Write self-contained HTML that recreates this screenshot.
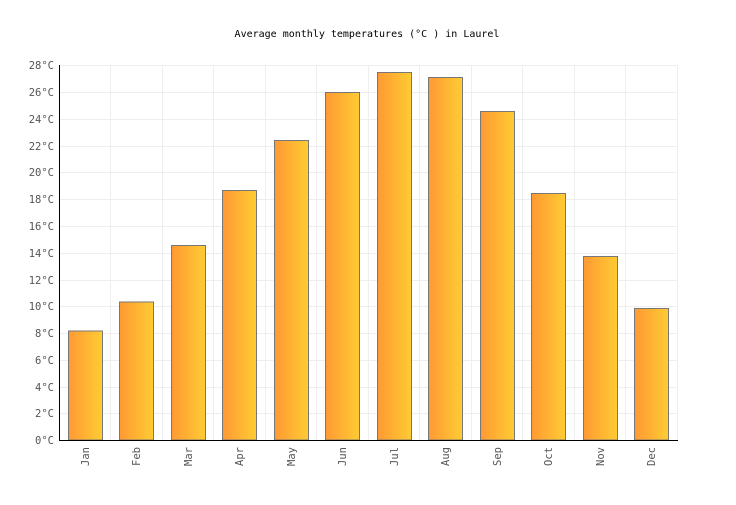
<!DOCTYPE html>
<html><head><meta charset="utf-8"><style>body{margin:0;background:#fff}</style></head>
<body>
<svg width="736" height="500" xmlns="http://www.w3.org/2000/svg" font-family="'DejaVu Sans Mono','Liberation Mono',monospace">
<defs><linearGradient id="g" x1="0" x2="1" y1="0" y2="0"><stop offset="0" stop-color="#ff9933"/><stop offset="1" stop-color="#ffcc33"/></linearGradient></defs>
<rect width="736" height="500" fill="#fff"/>
<text x="367" y="37" text-anchor="middle" font-size="10" fill="#000">Average monthly temperatures (°C ) in Laurel</text>
<g stroke="#eeeeee" stroke-width="1">
<line x1="59" x2="677" y1="65.5" y2="65.5"/><line x1="59" x2="677" y1="92.5" y2="92.5"/><line x1="59" x2="677" y1="119.5" y2="119.5"/><line x1="59" x2="677" y1="146.5" y2="146.5"/><line x1="59" x2="677" y1="172.5" y2="172.5"/><line x1="59" x2="677" y1="199.5" y2="199.5"/><line x1="59" x2="677" y1="226.5" y2="226.5"/><line x1="59" x2="677" y1="253.5" y2="253.5"/><line x1="59" x2="677" y1="280.5" y2="280.5"/><line x1="59" x2="677" y1="306.5" y2="306.5"/><line x1="59" x2="677" y1="333.5" y2="333.5"/><line x1="59" x2="677" y1="360.5" y2="360.5"/><line x1="59" x2="677" y1="387.5" y2="387.5"/><line x1="59" x2="677" y1="413.5" y2="413.5"/>
<line x1="110.5" x2="110.5" y1="65" y2="440"/><line x1="162.5" x2="162.5" y1="65" y2="440"/><line x1="213.5" x2="213.5" y1="65" y2="440"/><line x1="265.5" x2="265.5" y1="65" y2="440"/><line x1="316.5" x2="316.5" y1="65" y2="440"/><line x1="368.5" x2="368.5" y1="65" y2="440"/><line x1="419.5" x2="419.5" y1="65" y2="440"/><line x1="471.5" x2="471.5" y1="65" y2="440"/><line x1="522.5" x2="522.5" y1="65" y2="440"/><line x1="574.5" x2="574.5" y1="65" y2="440"/><line x1="625.5" x2="625.5" y1="65" y2="440"/><line x1="677.5" x2="677.5" y1="65" y2="440"/>
</g>
<g fill="url(#g)" stroke="#777" stroke-width="1">
<rect x="68.5" y="331" width="34" height="109"/>
<rect x="119.5" y="302" width="34" height="138"/>
<rect x="171.5" y="245.5" width="34" height="194.5"/>
<rect x="222.5" y="190.5" width="34" height="249.5"/>
<rect x="274.5" y="140.5" width="34" height="299.5"/>
<rect x="325.5" y="92.5" width="34" height="347.5"/>
<rect x="377.5" y="72.5" width="34" height="367.5"/>
<rect x="428.5" y="77.5" width="34" height="362.5"/>
<rect x="480.5" y="111.5" width="34" height="328.5"/>
<rect x="531.5" y="193.5" width="34" height="246.5"/>
<rect x="583.5" y="256.5" width="34" height="183.5"/>
<rect x="634.5" y="308.5" width="34" height="131.5"/>
</g>
<line x1="59.5" x2="59.5" y1="65" y2="440" stroke="#000"/>
<line x1="59" x2="678" y1="440.5" y2="440.5" stroke="#000"/>
<g font-size="10.5" fill="#555" text-anchor="end">
<text x="54" y="69">28°C</text><text x="54" y="96">26°C</text><text x="54" y="123">24°C</text><text x="54" y="150">22°C</text><text x="54" y="176">20°C</text><text x="54" y="203">18°C</text><text x="54" y="230">16°C</text><text x="54" y="257">14°C</text><text x="54" y="284">12°C</text><text x="54" y="310">10°C</text><text x="54" y="337">8°C</text><text x="54" y="364">6°C</text><text x="54" y="391">4°C</text><text x="54" y="417">2°C</text><text x="54" y="444">0°C</text>
</g>
<g font-size="10.5" fill="#555" text-anchor="end">
<text transform="translate(89,447) rotate(-90)">Jan</text>
<text transform="translate(140,447) rotate(-90)">Feb</text>
<text transform="translate(192,447) rotate(-90)">Mar</text>
<text transform="translate(243,447) rotate(-90)">Apr</text>
<text transform="translate(295,447) rotate(-90)">May</text>
<text transform="translate(346,447) rotate(-90)">Jun</text>
<text transform="translate(398,447) rotate(-90)">Jul</text>
<text transform="translate(449,447) rotate(-90)">Aug</text>
<text transform="translate(501,447) rotate(-90)">Sep</text>
<text transform="translate(552,447) rotate(-90)">Oct</text>
<text transform="translate(604,447) rotate(-90)">Nov</text>
<text transform="translate(655,447) rotate(-90)">Dec</text>
</g>
</svg>
</body></html>
